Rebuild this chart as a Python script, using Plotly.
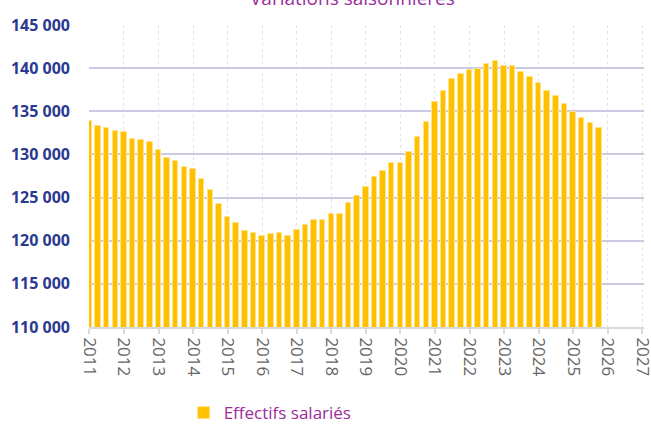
import plotly.graph_objects as go

quarters = [f"{y}-{m:02d}-01" for y in range(2011, 2026) for m in (1, 4, 7, 10)]
effectifs = [
    133850, 133260, 133100, 132720,
    132560, 131800, 131640, 131440,
    130500, 129600, 129240, 128500,
    128300, 127200, 125900, 124200,
    122750, 122000, 121100, 120900,
    120560, 120740, 120900, 120560,
    121280, 121820, 122400, 122400,
    123100, 123100, 124420, 125200,
    126260, 127380, 128110, 129040,
    129040, 130320, 131990, 133800,
    136050, 137300, 138770, 139350,
    139730, 139890, 140430, 140810,
    140280, 140280, 139550, 138970,
    138230, 137300, 136760, 135830,
    134960, 134180, 133600, 133060,
]
series_name = "Effectifs salariés"
title_text = "Variations saisonnières"

fig = go.Figure()
fig.add_trace(go.Bar(
    x=quarters, y=effectifs, name=series_name,
    marker=dict(color="#FFC000", line=dict(color="#FFE38A", width=1)),
    width=58 * 86400000,
))

fig.update_layout(
    width=651, height=424,
    margin=dict(l=89, r=7, t=25, b=97, autoexpand=False),
    plot_bgcolor="white", paper_bgcolor="white",
    separators=", ",
    font=dict(family="Open Sans", color="#595959"),
    bargap=0,
    showlegend=True,
    legend=dict(orientation="h", x=0.1705, xanchor="left", y=-0.285, yanchor="middle",
                font=dict(size=17, color="#9B2D9B"), itemwidth=30,
                bgcolor="rgba(0,0,0,0)"),
    xaxis=dict(
        type="date", range=["2010-12-27", "2027-01-20"], automargin=False,
        dtick="M12", tick0="2011-01-01", tickformat="%Y", tickangle=90,
        ticklabeloverflow="allow",
        tickfont=dict(size=17, color="#666666", family="Open Sans"),
        showgrid=True, gridcolor="#E3E3E3", griddash="dot", gridwidth=1,
        showline=True, linecolor="#D9D9D9", linewidth=2,
        ticks="outside", ticklen=5, tickcolor="#D9D9D9", tickwidth=2,
        zeroline=False,
    ),
    yaxis=dict(
        range=[110000, 145000], dtick=5000, tickformat=",d", automargin=False,
        tickfont=dict(size=16, color="#2B3990", family="Open Sans", weight="bold"),
        showgrid=True, gridcolor="#C9CBE3", gridwidth=2,
        zeroline=False, showline=False, ticks="", ticklabelstandoff=18,
    ),
    annotations=[dict(
        text=title_text, xref="paper", yref="paper", x=0.475, y=1,
        xanchor="center", yanchor="bottom", yshift=12, showarrow=False,
        font=dict(size=19, color="#9B2D9B", family="Open Sans"),
    )],
)

fig.write_html(
    "out.html",
    config={"displayModeBar": False},
    post_script="document.body.style.margin='0';document.body.style.overflow='hidden';",
)
